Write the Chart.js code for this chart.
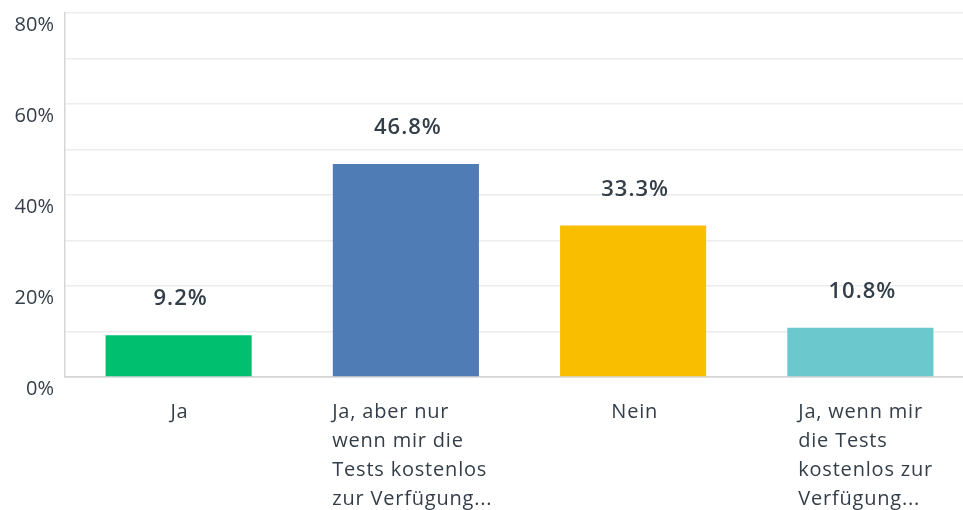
<!DOCTYPE html>
<html>
<head>
<meta charset="utf-8">
<script src="https://cdn.jsdelivr.net/npm/chart.js@4/dist/chart.umd.min.js"></script>
<style>
  html, body { margin: 0; padding: 0; background: #fff; overflow: hidden; }
  #wrap { position: relative; width: 974px; height: 510px; }
</style>
</head>
<body>
<div id="wrap"><canvas id="chart"></canvas></div>
<script>
var categories = [
  ["Ja"],
  ["Ja, aber nur", "wenn mir die", "Tests kostenlos", "zur Verfügung..."],
  ["Nein"],
  ["Ja, wenn mir", "die Tests", "kostenlos zur", "Verfügung..."]
];
var values = [9.2, 46.8, 33.3, 10.8];
var barColors = ["#00bf6f", "#507cb6", "#f9be00", "#6bc8cd"];
var yMax = 80;
var yStep = 10;

var textColor = "#333e48";
var fontFamily = "'Open Sans', sans-serif";

// value labels above bars and left-aligned category blocks under the axis
var labelPlugin = {
  id: "barLabels",
  afterDatasetsDraw: function(chart) {
    var ctx = chart.ctx, meta = chart.getDatasetMeta(0), xScale = chart.scales.x;
    ctx.save();
    ctx.fillStyle = textColor;
    ctx.font = "600 22px " + fontFamily;
    ctx.letterSpacing = "1px";
    ctx.textAlign = "center";
    ctx.textBaseline = "middle";
    meta.data.forEach(function(bar, i) {
      ctx.fillText(values[i].toFixed(1) + "%", bar.x + 2, bar.y - 36);
    });
    ctx.font = "20px " + fontFamily;
    ctx.textAlign = "left";
    var top = chart.chartArea.bottom + 35;
    categories.forEach(function(lines, i) {
      var cx = xScale.getPixelForValue(i);
      ctx.letterSpacing = "0px";
      var w = Math.max.apply(null, lines.map(function(l) { return ctx.measureText(l).width; }));
      ctx.letterSpacing = "0.8px";
      lines.forEach(function(line, j) {
        ctx.fillText(line, cx - w / 2, top + j * 29);
      });
    });
    ctx.restore();
  }
};

new Chart(document.getElementById("chart"), {
  type: "bar",
  data: {
    labels: categories.map(function(c) { return c.join(" "); }),
    datasets: [{
      data: values,
      backgroundColor: barColors,
      borderWidth: 0,
      categoryPercentage: 1,
      barPercentage: 0.643
    }]
  },
  options: {
    responsive: true,
    maintainAspectRatio: false,
    animation: false,
    layout: { padding: { top: 13, right: 0, left: 0, bottom: 0 } },
    plugins: { legend: { display: false }, tooltip: { enabled: false } },
    scales: {
      x: {
        grid: { display: false },
        border: { color: "#d6d6d6", width: 1.5 },
        ticks: { display: false },
        afterFit: function(scale) { scale.height = 133; }
      },
      y: {
        min: 0,
        max: yMax,
        grid: {
          color: function(c) { return c.tick && c.tick.value === 0 ? "#d6d6d6" : "#ececec"; },
          lineWidth: 1.5,
          drawTicks: false
        },
        border: { color: "#d6d6d6", width: 1.5 },
        ticks: {
          stepSize: yStep,
          padding: 11,
          labelOffset: 12,
          color: textColor,
          font: { family: fontFamily, size: 20 },
          callback: function(v) { return v % 20 === 0 ? v + "%" : ""; }
        },
        afterFit: function(scale) {
          scale.width = 65;
          scale.paddingTop = 0;
          scale.paddingBottom = 0;
        }
      }
    }
  },
  plugins: [labelPlugin]
});
</script>
</body>
</html>
